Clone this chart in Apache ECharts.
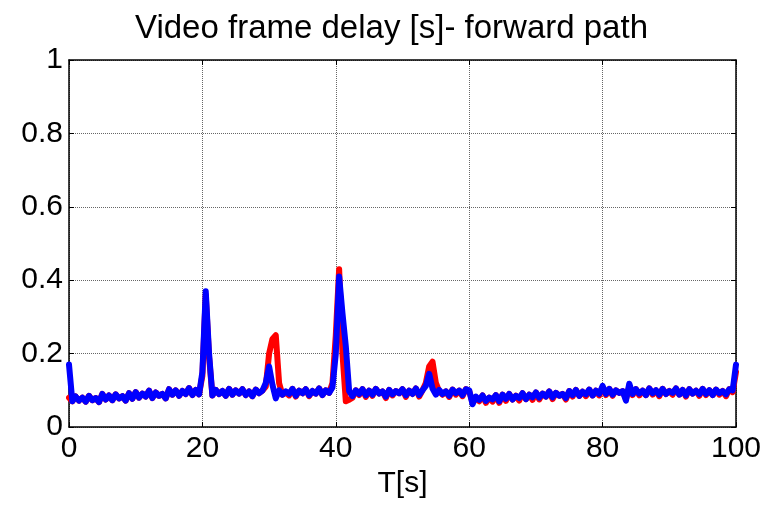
<!DOCTYPE html>
<html>
<head>
<meta charset="utf-8">
<script src="https://cdn.jsdelivr.net/npm/echarts@6/dist/echarts.min.js"></script>
<style>
  html, body { margin: 0; padding: 0; background: #fff; }
  #chart { width: 770px; height: 505px; }
</style>
</head>
<body>
<div id="chart"></div>
<script>
// sample times: 0 .. 100 s, every 0.5 s
var tSec = [];
for (var i = 0; i <= 200; i++) tSec.push(i * 0.5);

// red trace (drawn under blue)
var redDelay = [
  0.08, 0.07, 0.083, 0.072, 0.08, 0.069, 0.085, 0.073, 0.079, 0.068,
  0.09, 0.075, 0.086, 0.073, 0.089, 0.078, 0.084, 0.072, 0.092, 0.077,
  0.095, 0.08, 0.091, 0.083, 0.099, 0.079, 0.094, 0.085, 0.09, 0.078,
  0.103, 0.088, 0.1, 0.085, 0.098, 0.09, 0.106, 0.087, 0.101, 0.089,
  0.14, 0.36, 0.19, 0.086, 0.101, 0.09, 0.098, 0.085, 0.104, 0.088,
  0.1, 0.091, 0.103, 0.087, 0.097, 0.084, 0.102, 0.092, 0.099, 0.11,
  0.2, 0.24, 0.25, 0.12, 0.088, 0.094, 0.086, 0.104, 0.083, 0.099,
  0.092, 0.103, 0.084, 0.098, 0.091, 0.105, 0.087, 0.1, 0.093, 0.12,
  0.25, 0.43, 0.2, 0.07, 0.074, 0.08, 0.1, 0.087, 0.103, 0.082,
  0.099, 0.085, 0.104, 0.091, 0.097, 0.079, 0.101, 0.086, 0.098, 0.092,
  0.103, 0.082, 0.099, 0.09, 0.105, 0.083, 0.1, 0.12, 0.165, 0.178,
  0.12, 0.097, 0.088, 0.097, 0.082, 0.102, 0.088, 0.099, 0.084, 0.103,
  0.098, 0.066, 0.08, 0.07, 0.086, 0.066, 0.08, 0.069, 0.087, 0.066,
  0.088, 0.071, 0.09, 0.075, 0.085, 0.072, 0.092, 0.076, 0.088, 0.074,
  0.094, 0.075, 0.091, 0.083, 0.097, 0.076, 0.093, 0.085, 0.09, 0.075,
  0.098, 0.083, 0.101, 0.085, 0.096, 0.084, 0.102, 0.086, 0.099, 0.086,
  0.108, 0.087, 0.104, 0.085, 0.1, 0.093, 0.098, 0.076, 0.11, 0.087,
  0.103, 0.086, 0.099, 0.087, 0.105, 0.088, 0.1, 0.084, 0.104, 0.09,
  0.098, 0.088, 0.105, 0.088, 0.101, 0.083, 0.103, 0.091, 0.099, 0.085,
  0.104, 0.087, 0.1, 0.087, 0.102, 0.088, 0.098, 0.084, 0.103, 0.095,
  0.15
];

// blue trace
var blueDelay = [
  0.17, 0.07, 0.083, 0.072, 0.08, 0.069, 0.085, 0.073, 0.079, 0.068,
  0.09, 0.075, 0.086, 0.073, 0.089, 0.078, 0.084, 0.072, 0.092, 0.077,
  0.095, 0.08, 0.091, 0.083, 0.099, 0.079, 0.094, 0.085, 0.09, 0.078,
  0.103, 0.088, 0.1, 0.085, 0.098, 0.09, 0.106, 0.087, 0.101, 0.089,
  0.15, 0.37, 0.2, 0.086, 0.101, 0.09, 0.098, 0.085, 0.104, 0.088,
  0.1, 0.091, 0.103, 0.087, 0.097, 0.084, 0.102, 0.092, 0.099, 0.12,
  0.165, 0.115, 0.078, 0.1, 0.088, 0.097, 0.09, 0.104, 0.085, 0.099,
  0.092, 0.103, 0.086, 0.098, 0.091, 0.105, 0.087, 0.1, 0.093, 0.108,
  0.2, 0.41, 0.31, 0.22, 0.098, 0.084, 0.1, 0.09, 0.103, 0.086,
  0.099, 0.088, 0.104, 0.091, 0.097, 0.083, 0.101, 0.089, 0.098, 0.092,
  0.103, 0.086, 0.099, 0.09, 0.105, 0.087, 0.1, 0.112, 0.145, 0.105,
  0.088, 0.101, 0.09, 0.097, 0.085, 0.102, 0.092, 0.099, 0.087, 0.103,
  0.1, 0.062, 0.083, 0.074, 0.086, 0.071, 0.08, 0.075, 0.087, 0.07,
  0.088, 0.077, 0.09, 0.075, 0.085, 0.079, 0.092, 0.076, 0.088, 0.081,
  0.094, 0.08, 0.091, 0.083, 0.097, 0.081, 0.093, 0.085, 0.09, 0.079,
  0.098, 0.087, 0.101, 0.085, 0.096, 0.089, 0.102, 0.086, 0.099, 0.09,
  0.112, 0.09, 0.104, 0.088, 0.1, 0.093, 0.098, 0.072, 0.118, 0.09,
  0.103, 0.091, 0.099, 0.087, 0.105, 0.092, 0.1, 0.088, 0.104, 0.09,
  0.098, 0.093, 0.105, 0.088, 0.101, 0.086, 0.103, 0.091, 0.099, 0.089,
  0.104, 0.09, 0.1, 0.087, 0.102, 0.092, 0.098, 0.089, 0.103, 0.1,
  0.17
];

var xTicks = { min: 0, max: 100, interval: 20 };
var yTicks = { min: 0, max: 1, interval: 0.2 };

function pairs(vals) {
  var out = [];
  for (var i = 0; i < tSec.length; i++) out.push([tSec[i], vals[i]]);
  return out;
}

var font = "'Liberation Sans', Arial, sans-serif";
var chart = echarts.init(document.getElementById("chart"));

var boxAxis = function(pos) {
  return {
    position: pos,
    axisLine: { show: true, onZero: false, lineStyle: { color: "#000", width: 1.5 } },
    axisTick: { show: true, inside: true, length: 5, lineStyle: { color: "#000", width: 1 } },
    axisLabel: { show: false },
    splitLine: { show: false }
  };
};

chart.setOption({
  animation: false,
  backgroundColor: "#ffffff",
  title: {
    text: "Video frame delay [s]- forward path",
    left: 130,
    top: 7,
    textStyle: { fontFamily: font, fontSize: 33, fontWeight: "normal", color: "#000" }
  },
  grid: { left: 69, right: 34, top: 60, bottom: 78 },
  xAxis: [
    {
      type: "value",
      min: xTicks.min,
      max: xTicks.max,
      interval: xTicks.interval,
      position: "bottom",
      name: "T[s]",
      nameLocation: "middle",
      nameGap: 40,
      nameTextStyle: { fontFamily: font, fontSize: 30, color: "#000" },
      axisLine: { onZero: false, lineStyle: { color: "#000", width: 1.5 } },
      axisTick: { inside: true, length: 5, lineStyle: { color: "#000" } },
      axisLabel: { fontFamily: font, fontSize: 30, color: "#000", margin: 7 },
      splitLine: { show: true, lineStyle: { color: "#666", type: "dotted", width: 1 } }
    },
    Object.assign({ type: "value", min: xTicks.min, max: xTicks.max, interval: xTicks.interval }, boxAxis("top"))
  ],
  yAxis: [
    {
      type: "value",
      min: yTicks.min,
      max: yTicks.max,
      interval: yTicks.interval,
      position: "left",
      axisLine: { show: true, onZero: false, lineStyle: { color: "#000", width: 1.5 } },
      axisTick: { show: true, inside: true, length: 5, lineStyle: { color: "#000" } },
      axisLabel: { fontFamily: font, fontSize: 30, color: "#000", margin: 6 },
      splitLine: { show: true, lineStyle: { color: "#666", type: "dotted", width: 1 } }
    },
    Object.assign({ type: "value", min: yTicks.min, max: yTicks.max, interval: yTicks.interval }, boxAxis("right"))
  ],
  series: [
    {
      name: "red",
      type: "line",
      data: pairs(redDelay),
      showSymbol: false,
      lineStyle: { color: "#ff0000", width: 6, join: "round", cap: "round" },
      itemStyle: { color: "#ff0000" }
    },
    {
      name: "blue",
      type: "line",
      data: pairs(blueDelay),
      showSymbol: false,
      lineStyle: { color: "#0000ff", width: 6, join: "round", cap: "round" },
      itemStyle: { color: "#0000ff" }
    }
  ]
});
</script>
</body>
</html>
